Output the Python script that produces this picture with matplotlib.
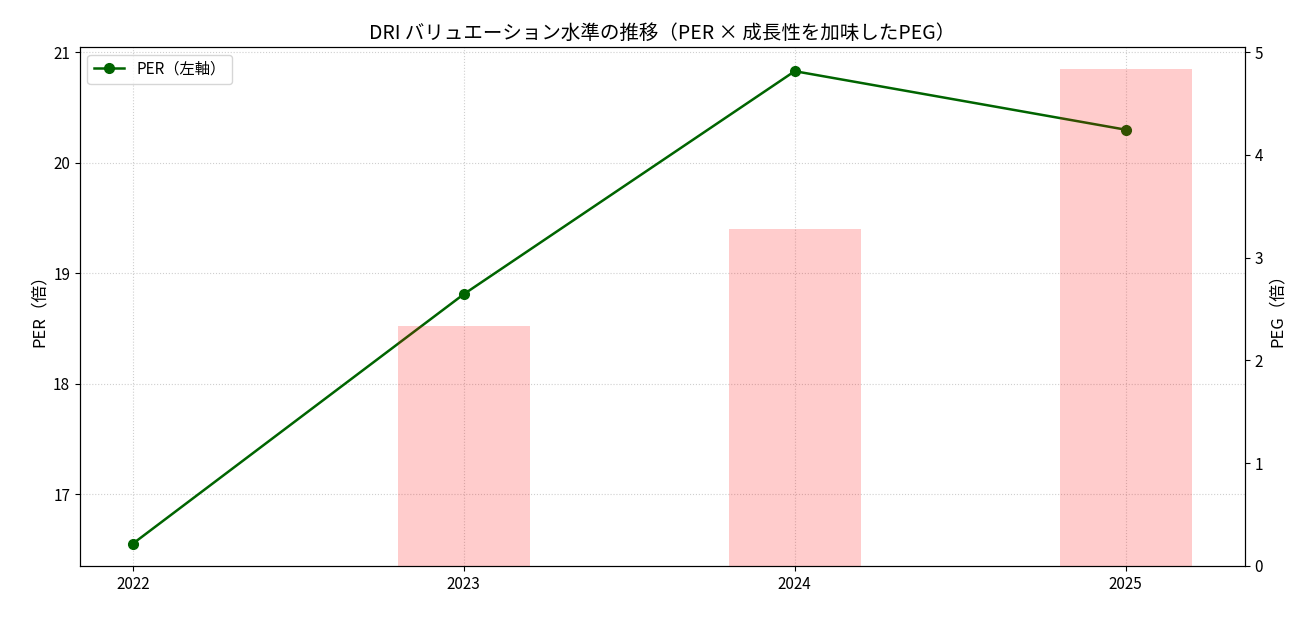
import matplotlib
matplotlib.use("Agg")
import matplotlib.pyplot as plt
import numpy as np

plt.rcParams['font.family'] = ['Noto Sans CJK JP', 'DejaVu Sans']

years = ['2022', '2023', '2024', '2025']
per = [16.55, 18.81, 20.83, 20.30]
peg = [np.nan, 2.33, 3.28, 4.83]

fig, ax1 = plt.subplots(figsize=(13.09, 6.17), dpi=100)
x = np.arange(len(years))
ax1.plot(x, per, color='darkgreen', marker='o', markersize=7, linewidth=1.8, label='PER（左軸）')
ax1.set_ylabel('PER（倍）', fontsize=12)
ax1.set_ylim(16.35, 21.05)
ax1.set_xticks(x)
ax1.set_xticklabels(years)
ax1.grid(True, linestyle=':', alpha=0.6)
ax1.tick_params(labelsize=11)

ax2 = ax1.twinx()
ax2.bar(x, peg, width=0.4, color='red', alpha=0.2)
ax2.set_ylabel('PEG（倍）', fontsize=12)
ax2.set_ylim(0, 5.05)
ax2.tick_params(labelsize=11)

ax1.legend(loc='upper left', fontsize=11)
ax1.set_title('DRI バリュエーション水準の推移（PER × 成長性を加味したPEG）', fontsize=14)
fig.subplots_adjust(left=0.061, right=0.951, top=0.924, bottom=0.083)
fig.savefig('out.png')
